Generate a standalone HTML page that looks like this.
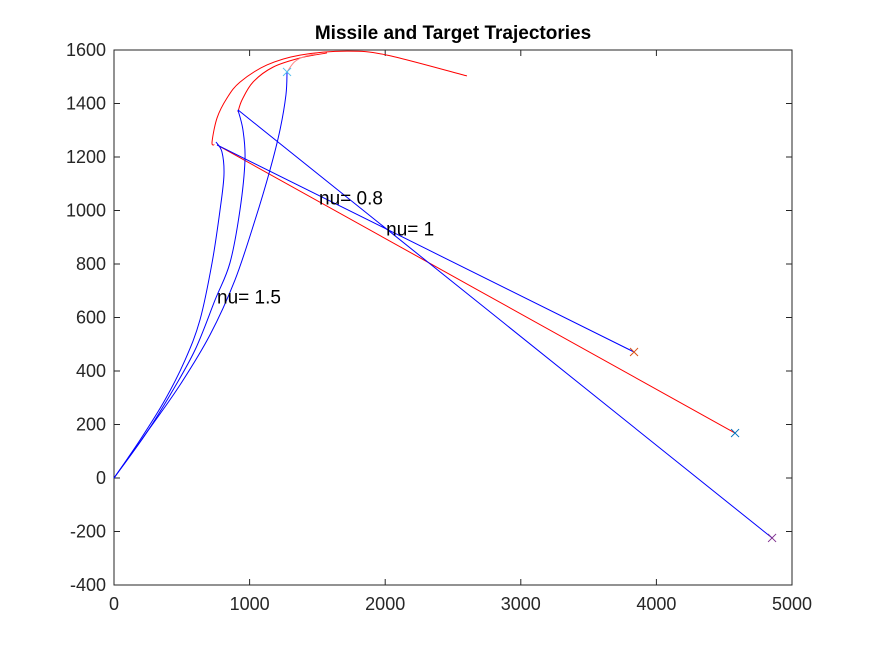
<!DOCTYPE html>
<html><head><meta charset="utf-8"><style>body{margin:0;background:#fff}svg{display:block}text{font-family:"Liberation Sans",sans-serif}</style></head>
<body>
<svg id="c" width="875" height="656" xmlns="http://www.w3.org/2000/svg"></svg>
<script>
const xTicks=[0,1000,2000,3000,4000,5000];
const yTicks=[-400,-200,0,200,400,600,800,1000,1200,1400,1600];
const missile08X=[0,192,376,524,634,723,782,811,796,752];
const missile08Y=[0,142,292,441,591,804,1002,1133,1219,1256];
const missile08LineX=[760,3835];
const missile08LineY=[1245,471];
const missile1X=[0,229,413,597,745,855,929,966,951,914];
const missile1Y=[0,161,310,478,665,804,1002,1189,1301,1376];
const missile1LineX=[914,4853];
const missile1LineY=[1376,-224];
const missile15X=[0,265,487,708,892,1040,1150,1224,1268,1276];
const missile15Y=[0,187,348,535,740,964,1151,1301,1432,1518];
const targetOuterX=[2603,2013,1718,1372,1128,929,833,760,723,740];
const targetOuterY=[1503,1581,1596,1581,1544,1480,1420,1346,1256,1245];
const targetLineX=[760,4580];
const targetLineY=[1245,168];
const targetInnerX=[1571,1372,1173,1025,944,914];
const targetInnerY=[1589,1570,1536,1480,1413,1368];
const targetShortX=[1276,1330,1400,1500];
const targetShortY=[1518,1555,1575,1588];
const markerX=[1276,3835,4580,4853];
const markerY=[1518,471,168,-224];
const markerColors=['#4DBEEE','#D95319','#0072BD','#7E2F8E'];
const labelText=['nu= 0.8','nu= 1','nu= 1.5'];
const labelX=[1512,2007,760];
const labelY=[1023,907,652];
const L=114,R=792,T=50,B=585;
const sx=v=>L+(v-0)/5000*(R-L);
const sy=v=>B-(v+400)/2000*(B-T);
const svg=document.getElementById('c');
const NS='http://www.w3.org/2000/svg';
function mk(t,a,p){const e=document.createElementNS(NS,t);for(const k in a)e.setAttribute(k,a[k]);(p||svg).appendChild(e);return e;}
const bg=mk('rect',{x:L,y:T,width:R-L,height:B-T,fill:'#fff',stroke:'#262626','stroke-width':1});


xTicks.forEach(v=>{const x=sx(v);
mk('line',{x1:x,x2:x,y1:B,y2:B-6,stroke:'#262626'});mk('line',{x1:x,x2:x,y1:T,y2:T+6,stroke:'#262626'});
const t=mk('text',{x:x,y:B+25,'text-anchor':'middle','font-size':18,fill:'#262626'});t.textContent=v;

});
yTicks.forEach(v=>{const y=sy(v);
mk('line',{x1:L,x2:L+6,y1:y,y2:y,stroke:'#262626'});mk('line',{x1:R,x2:R-6,y1:y,y2:y,stroke:'#262626'});
const t=mk('text',{x:L-8,y:y+6,'text-anchor':'end','font-size':18,fill:'#262626'});t.textContent=v;

});
function smooth(xs,ys){const P=xs.map((x,i)=>[sx(x),sy(ys[i])]);let d='M'+P[0][0]+','+P[0][1];
for(let i=0;i<P.length-1;i++){const p0=P[Math.max(0,i-1)],p1=P[i],p2=P[i+1],p3=P[Math.min(P.length-1,i+2)];
const c1=[p1[0]+(p2[0]-p0[0])/6,p1[1]+(p2[1]-p0[1])/6],c2=[p2[0]-(p3[0]-p1[0])/6,p2[1]-(p3[1]-p1[1])/6];
d+=' C'+c1[0]+','+c1[1]+' '+c2[0]+','+c2[1]+' '+p2[0]+','+p2[1];}return d;}
function curve(xs,ys,col,name){const p=mk('path',{d:smooth(xs,ys),fill:'none',stroke:col,'stroke-width':1});

}
curve(targetOuterX,targetOuterY,'#f00','target-trajectory-outer');
curve(targetLineX,targetLineY,'#f00','target-trajectory-line');
curve(targetInnerX,targetInnerY,'#f00','target-trajectory-inner');
curve(targetShortX,targetShortY,'#f88','target-trajectory-short');
curve(missile08X,missile08Y,'#00f','missile-nu-0.8');
curve(missile08LineX,missile08LineY,'#00f','missile-nu-0.8-line');
curve(missile1X,missile1Y,'#00f','missile-nu-1');
curve(missile1LineX,missile1LineY,'#00f','missile-nu-1-line');
curve(missile15X,missile15Y,'#00f','missile-nu-1.5');
markerX.forEach((v,i)=>{const x=sx(v),y=sy(markerY[i]),c=markerColors[i];
const g=mk('g',{});


mk('line',{x1:x-4,y1:y-4,x2:x+4,y2:y+4,stroke:c},g);mk('line',{x1:x-4,y1:y+4,x2:x+4,y2:y-4,stroke:c},g);});
labelText.forEach((s,i)=>{const t=mk('text',{x:sx(labelX[i]),y:sy(labelY[i]),'font-size':19,fill:'#000'});t.textContent=s;

});
const ti=mk('text',{x:453,y:39,'text-anchor':'middle','font-size':19,'font-weight':'bold',fill:'#000'});ti.textContent='Missile and Target Trajectories';


</script>
</body></html>
